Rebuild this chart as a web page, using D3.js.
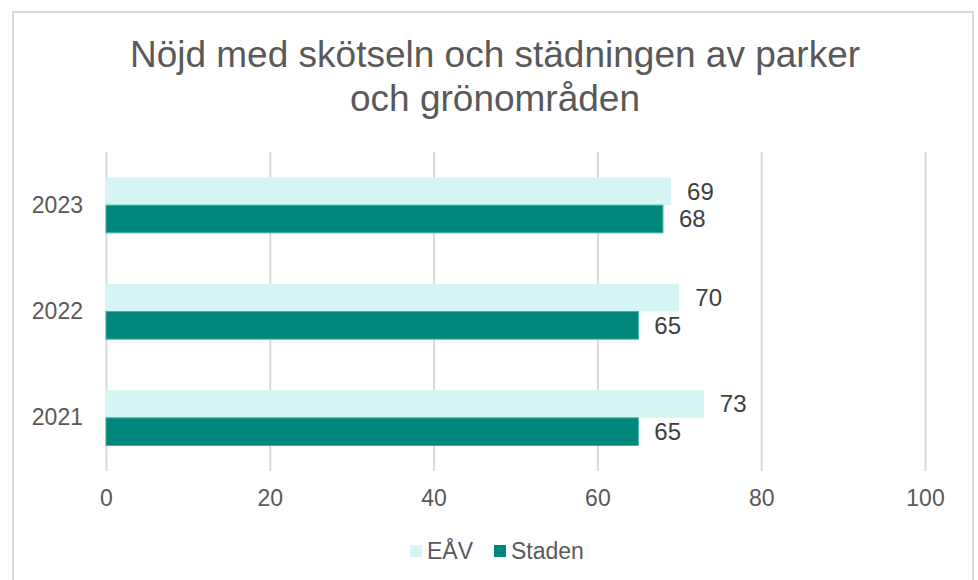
<!DOCTYPE html>
<html>
<head>
<meta charset="utf-8">
<script src="https://cdn.jsdelivr.net/npm/d3@7"></script>
<style>
  body { margin: 0; background: #fff; }
  svg { display: block; font-family: "Liberation Sans", Arial, sans-serif; }
  .tick line { stroke: #d9d9d9; stroke-width: 2; }
  .tick text { fill: #595959; }
</style>
</head>
<body>
<svg width="978" height="580"></svg>
<script>
const years = ['2023', '2022', '2021'];
const series = ['EÅV', 'Staden'];
const eavValues = [69, 70, 73];
const stadenValues = [68, 65, 65];
const xTicks = [0, 20, 40, 60, 80, 100];
const colors = ['#d5f5f2', '#00877b'];
const titleLines = ['Nöjd med skötseln och städningen av parker', 'och grönområden'];

const svg = d3.select('svg');

// outer frame
svg.append('rect')
    .attr('x', 13).attr('y', 12)
    .attr('width', 960).attr('height', 580)
    .attr('fill', 'none')
    .attr('stroke', '#d9d9d9')
    .attr('stroke-width', 2);

const title = svg.append('text')
    .attr('text-anchor', 'middle')
    .attr('fill', '#595959')
    .style('font-size', '37px');
title.selectAll('tspan')
    .data(titleLines)
    .enter()
    .append('tspan')
    .attr('x', 495)
    .attr('y', (d, i) => 67 + i * 44)
    .text(d => d);

const x = d3.scaleLinear().domain([0, 100]).range([106, 925]);
const y = d3.scaleBand().domain(years).range([152, 471]).paddingInner(0.48).paddingOuter(0.24);
const ySub = d3.scaleBand().domain(series).range([0, y.bandwidth()]);

const xAxis = svg.append('g')
    .attr('transform', 'translate(0,471)')
    .call(d3.axisBottom(x).tickValues(xTicks).tickSize(-319).tickPadding(19));
xAxis.select('.domain').remove();
xAxis.selectAll('text').style('font-size', '23px');

const yAxis = svg.append('g')
    .attr('transform', 'translate(106,0)')
    .call(d3.axisLeft(y).tickSize(0).tickPadding(23));
yAxis.select('.domain').remove();
yAxis.selectAll('text').style('font-size', '23px');

const data = [];
years.forEach((yr, i) => {
    data.push({ year: yr, s: 'EÅV', v: eavValues[i], c: colors[0] });
    data.push({ year: yr, s: 'Staden', v: stadenValues[i], c: colors[1] });
});

svg.selectAll('.bar')
    .data(data)
    .enter()
    .append('rect')
    .attr('class', 'bar')
    .attr('x', x(0))
    .attr('y', d => y(d.year) + ySub(d.s))
    .attr('width', d => x(d.v) - x(0))
    .attr('height', ySub.bandwidth())
    .attr('fill', d => d.c)
    .attr('stroke', d => d.s === 'Staden' ? '#3fb0a5' : 'none')
    .attr('stroke-width', 1);

svg.selectAll('.val')
    .data(data)
    .enter()
    .append('text')
    .attr('class', 'val')
    .attr('x', d => x(d.v) + 16)
    .attr('y', d => y(d.year) + ySub(d.s) + ySub.bandwidth() / 2)
    .attr('dy', '0.35em')
    .attr('fill', '#404040')
    .style('font-size', '24px')
    .text(d => d.v);

// legend
const legend = svg.append('g').attr('transform', 'translate(410,551)');
const items = legend.selectAll('g')
    .data(series)
    .enter()
    .append('g')
    .attr('transform', (d, i) => `translate(${i * 84},0)`);
items.append('rect')
    .attr('x', 0).attr('y', -6)
    .attr('width', 12).attr('height', 12)
    .attr('fill', (d, i) => colors[i]);
items.append('text')
    .attr('x', 17)
    .attr('dy', '0.35em')
    .attr('fill', '#595959')
    .style('font-size', '23px')
    .text(d => d);
</script>
</body>
</html>
